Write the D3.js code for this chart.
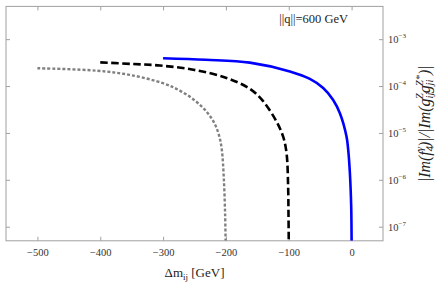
<!DOCTYPE html>
<html>
<head>
<meta charset="utf-8">
<script src="https://cdn.jsdelivr.net/npm/d3@7"></script>
<style>
  body { margin: 0; background: #fff; }
  #chart { width: 436px; height: 285px; }
  text { font-family: "Liberation Serif", "DejaVu Serif", serif; }
</style>
</head>
<body>
<div id="chart"></div>
<script>
//Datos
const blueDm  = [-300, -232, -162, -98.2, -66.4, -45.2, -29.3, -18.6, -8, -5.4, -2.7, -0.6, -0.15, 0];
const blueVal = [3.92e-4, 3.64e-4, 3.16e-4, 2.05e-4, 1.42e-4, 9.1e-5, 5.06e-5, 2.63e-5, 8.3e-6, 4.4e-6, 1.4e-6, 2.7e-7, 1e-7, 5e-8];

const blackDm  = [-400, -350, -305, -252, -199, -162, -140.8, -119.4, -108.9, -103.5, -101, -100.4, -100];
const blackVal = [3.2e-4, 2.96e-4, 2.74e-4, 2.23e-4, 1.49e-4, 8.75e-5, 4.76e-5, 1.74e-5, 8.3e-6, 3.7e-6, 7.2e-7, 1.8e-7, 5e-8];

const grayDm  = [-500, -406, -353, -300, -273.4, -249.5, -230.4, -217.7, -210.5, -206.5, -203.3, -201.3, -200.5];
const grayVal = [2.4e-4, 2.13e-4, 1.73e-4, 1.15e-4, 8.0e-5, 4.92e-5, 2.8e-5, 1.55e-5, 8.4e-6, 4.34e-6, 1.05e-6, 1.9e-7, 5e-8];

const xTicks = [-500, -400, -300, -200, -100, 0];
const yTickExp = [-3, -4, -5, -6, -7];

//Variables genericas
let margin = {top: 6.4, right: 53, bottom: 44.2, left: 6},
    width = 436 - margin.left - margin.right,
    height = 285 - margin.top - margin.bottom;

let svg = d3.select("#chart")
    .append("svg")
      .attr("width", 436)
      .attr("height", 285)
    .append("g")
      .attr("transform", "translate(" + margin.left + "," + margin.top + ")");

let x = d3.scaleLinear().domain([-550, 50]).range([0, width]);
let y = d3.scaleLog().domain([5e-8, 5e-3]).range([height, 0]);

const FRAME = '#a0a0a0';

svg.append("defs").append("clipPath").attr("id", "clip")
    .append("rect").attr("width", width).attr("height", height);

//Ejes con ticks hacia dentro
function styleAxis(g) {
    g.select(".domain").remove();
    g.selectAll(".tick line").attr("stroke", FRAME);
}

svg.append("g")
    .attr("transform", "translate(0," + height + ")")
    .call(d3.axisBottom(x).tickValues(xTicks).tickSizeInner(-4).tickSizeOuter(0).tickPadding(8)
        .tickFormat(d => d < 0 ? "\u2212" + Math.abs(d) : d))
    .call(styleAxis)
    .call(g => g.selectAll("text").attr("font-size", 10.5).attr("fill", "#333")
        .attr("font-family", "Liberation Serif"));

svg.append("g")
    .call(d3.axisTop(x).tickValues(xTicks).tickSizeInner(-4).tickSizeOuter(0).tickFormat(""))
    .call(styleAxis);

svg.append("g")
    .call(d3.axisLeft(y).tickValues(yTickExp.map(e => Math.pow(10, e))).tickSizeInner(-4).tickSizeOuter(0).tickFormat(""))
    .call(styleAxis);

let yRight = svg.append("g")
    .attr("transform", "translate(" + width + ",0)")
    .call(d3.axisRight(y).tickValues(yTickExp.map(e => Math.pow(10, e))).tickSizeInner(-4).tickSizeOuter(0).tickFormat(""))
    .call(styleAxis);

yRight.selectAll(".tick").each(function(d) {
    let t = d3.select(this).append("text")
        .attr("x", 5).attr("dy", "0.35em")
        .attr("fill", "#333").attr("font-size", 10.5)
        .attr("text-anchor", "start");
    t.append("tspan").text("10");
    t.append("tspan").attr("font-size", 7).attr("dy", "-0.7em")
        .text("\u2212" + Math.abs(Math.round(Math.log10(d))));
});

//Marco
svg.append("rect")
    .attr("width", width).attr("height", height)
    .attr("fill", "none").attr("stroke", FRAME).attr("stroke-width", 1);

//Curvas
let line = d3.line()
    .x(d => x(d[0]))
    .y(d => y(d[1]))
    .curve(d3.curveCatmullRom.alpha(0.5));

let series = [
    {dm: grayDm, val: grayVal, color: '#808080', dash: '3,2', w: 2.4},
    {dm: blackDm, val: blackVal, color: '#000000', dash: '7.5,3.5', w: 2.6},
    {dm: blueDm, val: blueVal, color: '#0000ff', dash: null, w: 2.6}
];

svg.append("g").attr("clip-path", "url(#clip)")
    .selectAll("path")
    .data(series)
    .enter()
    .append("path")
    .attr("d", s => line(s.dm.map((d, i) => [d, s.val[i]])))
    .attr("fill", "none")
    .attr("stroke", s => s.color)
    .attr("stroke-width", s => s.w)
    .attr("stroke-dasharray", s => s.dash);

//Textos
svg.append("text")
    .attr("x", x(-115)).attr("y", 23 - margin.top)
    .attr("font-size", 12.5).attr("fill", "#222")
    .text("||q||=600 GeV");

let xt = svg.append("text")
    .attr("x", width / 2).attr("y", 277 - margin.top)
    .attr("text-anchor", "middle")
    .attr("font-size", 13).attr("fill", "#222");
xt.append("tspan").text("\u0394m");
xt.append("tspan").attr("font-size", 9).attr("dy", 3).text("ij");
xt.append("tspan").attr("dy", -3).text(" [GeV]");

//Titulo eje Y (girado)
let ytG = svg.append("g")
    .attr("transform", "translate(" + (430 - margin.left) + "," + (height / 2) + ") rotate(-90)");
let yt = ytG.append("text")
    .attr("text-anchor", "start")
    .attr("font-size", 12).attr("font-style", "italic").attr("fill", "#222");
yt.append("tspan").text("|Im(f");
yt.append("tspan").attr("font-size", 8).attr("dy", 2.5).text("4");
yt.append("tspan").attr("font-size", 8).attr("dx", -4).attr("dy", -7.5).text("\u03b3");
yt.append("tspan").attr("dy", 5).text(")|/|Im(g");
yt.append("tspan").attr("font-size", 8).attr("dy", 2.5).text("ij");
yt.append("tspan").attr("font-size", 8).attr("dx", -5).attr("dy", -7.5).text("Z");
yt.append("tspan").attr("dy", 5).text("g");
yt.append("tspan").attr("font-size", 8).attr("dy", 2.5).text("ji");
yt.append("tspan").attr("font-size", 8).attr("dx", -5).attr("dy", -7.5).text("Z*");
yt.append("tspan").attr("dy", 5).text(")|");

//Ajuste de longitud al de la referencia (~117 px)
let bb = yt.node().getBBox();
let k = 117 / bb.width;
yt.attr("transform", "scale(" + k + ") translate(" + (-bb.x - bb.width / 2) + ",0)");
</script>
</body>
</html>
